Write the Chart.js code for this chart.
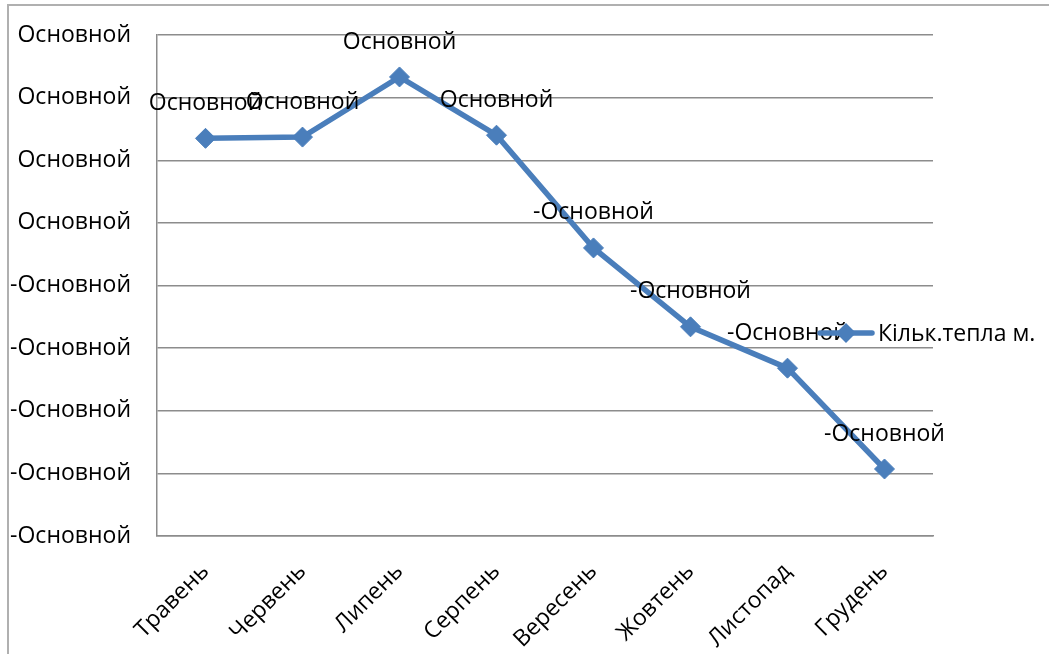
<!DOCTYPE html>
<html>
<head>
<meta charset="utf-8">
<script src="https://cdn.jsdelivr.net/npm/chart.js@4"></script>
<style>
  html, body { margin: 0; padding: 0; background: #fff; }
  canvas { display: block; }
</style>
</head>
<body>
<canvas id="c" width="1049" height="654"></canvas>
<script>
// Months of the heating report
const months = ['Травень', 'Червень', 'Липень', 'Серпень', 'Вересень', 'Жовтень', 'Листопад', 'Грудень'];
// Amount of heat per month
const heatValues = [13.5, 13.7, 23.3, 14.0, -4.0, -16.6, -23.2, -39.3];
// Value-axis range and step
const yMin = -50;
const yMax = 30;
const yStep = 10;
// Text shown in place of numbers (the sheet's number format is literal)
const formatText = 'Основной';
const seriesName = 'Кільк.тепла м.';

const FONT = '"Open Sans", "Liberation Sans", sans-serif';
const LINE = '#4a7ebb';
const GRID = '#8c8c8c';

function fmt(v) { return (v < 0 ? '-' : '') + formatText; }

// Outer frame of the chart object
const framePlugin = {
  id: 'frame',
  beforeDraw(chart) {
    const ctx = chart.ctx;
    ctx.save();
    ctx.strokeStyle = '#b0b0b0';
    ctx.lineWidth = 2;
    ctx.beginPath();
    ctx.moveTo(8, chart.height);
    ctx.lineTo(8, 5);
    ctx.lineTo(chart.width, 5);
    ctx.stroke();
    ctx.restore();
  }
};

// Value labels above each point
const valueLabels = {
  id: 'valueLabels',
  afterDatasetsDraw(chart) {
    const ctx = chart.ctx;
    const meta = chart.getDatasetMeta(0);
    const data = chart.data.datasets[0].data;
    ctx.save();
    ctx.font = '23px ' + FONT;
    ctx.fillStyle = '#000';
    ctx.textAlign = 'center';
    ctx.textBaseline = 'middle';
    meta.data.forEach((pt, i) => {
      ctx.fillText(fmt(data[i]), pt.x, pt.y - 35);
    });
    ctx.restore();
  }
};

// Series key drawn over the right edge of the plot
const seriesKey = {
  id: 'seriesKey',
  afterDraw(chart) {
    const ctx = chart.ctx;
    const ds = chart.data.datasets[0];
    const area = chart.chartArea;
    const x0 = area.right - 113;
    const y = 333;
    ctx.save();
    ctx.strokeStyle = ds.borderColor;
    ctx.lineWidth = ds.borderWidth;
    ctx.lineCap = 'round';
    ctx.beginPath();
    ctx.moveTo(x0, y);
    ctx.lineTo(x0 + 52, y);
    ctx.stroke();
    ctx.fillStyle = ds.pointBackgroundColor;
    const r = 10;
    const cx = x0 + 26;
    ctx.beginPath();
    ctx.moveTo(cx - r, y);
    ctx.lineTo(cx, y - r);
    ctx.lineTo(cx + r, y);
    ctx.lineTo(cx, y + r);
    ctx.closePath();
    ctx.fill();
    ctx.fillStyle = '#000';
    ctx.font = '23px ' + FONT;
    ctx.textAlign = 'left';
    ctx.textBaseline = 'middle';
    ctx.fillText(seriesName, x0 + 58, y + 1);
    ctx.restore();
  }
};

new Chart(document.getElementById('c'), {
  type: 'line',
  data: {
    labels: months,
    datasets: [{
      label: seriesName,
      data: heatValues,
      borderColor: LINE,
      backgroundColor: LINE,
      borderWidth: 5.5,
      tension: 0,
      pointStyle: 'rectRot',
      pointRadius: 10,
      pointHoverRadius: 10,
      pointBackgroundColor: LINE,
      pointBorderColor: LINE,
      pointBorderWidth: 1
    }]
  },
  options: {
    responsive: false,
    devicePixelRatio: 1,
    animation: false,
    events: [],
    layout: { padding: { left: 0, top: 35, right: 116, bottom: 0 } },
    plugins: {
      legend: { display: false },
      tooltip: { enabled: false }
    },
    scales: {
      x: {
        offset: true,
        grid: { display: false, drawTicks: false },
        border: { display: true, color: GRID, width: 1.5 },
        ticks: {
          color: '#000',
          font: { family: FONT, size: 23 },
          maxRotation: 45,
          minRotation: 45,
          padding: 22
        },
        afterFit(s) { s.height = 118; }
      },
      y: {
        min: yMin,
        max: yMax,
        grid: { color: GRID, lineWidth: 1.5, drawTicks: false },
        border: { display: true, color: GRID, width: 1.5 },
        ticks: {
          stepSize: yStep,
          color: '#000',
          font: { family: FONT, size: 23 },
          padding: 26,
          callback: (v) => fmt(v)
        },
        afterFit(s) {
          s.width = 157;
          s.paddingTop = 0;
          s.paddingBottom = 0;
        }
      }
    }
  },
  plugins: [framePlugin, valueLabels, seriesKey]
});
</script>
</body>
</html>
